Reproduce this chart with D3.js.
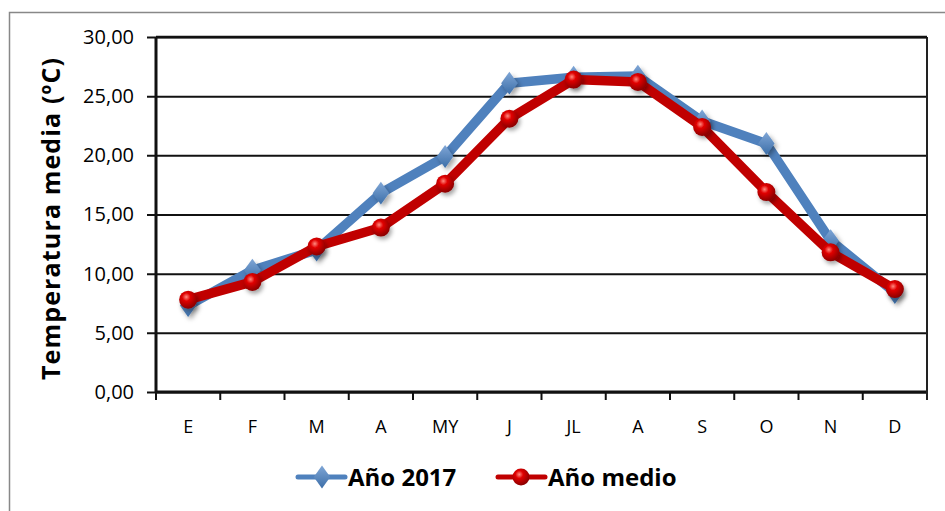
<!DOCTYPE html>
<html>
<head>
<meta charset="utf-8">
<script src="https://cdn.jsdelivr.net/npm/d3@7"></script>
<style>
  body { margin: 0; background: #fff; overflow: hidden; }
  svg { display: block; }
</style>
</head>
<body>
<svg width="945" height="511"></svg>
<script>
const months = ['E', 'F', 'M', 'A', 'MY', 'J', 'JL', 'A ', 'S', 'O', 'N', 'D'];
const year2017 = [7.3, 10.3, 12.0, 16.8, 19.9, 26.1, 26.6, 26.7, 22.9, 21.0, 12.8, 8.4];
const yearAvg = [7.8, 9.3, 12.3, 13.9, 17.6, 23.1, 26.4, 26.2, 22.4, 16.9, 11.8, 8.7];
const yTicks = [0, 5, 10, 15, 20, 25, 30];
const seriesNames = ['Año 2017', 'Año medio'];

const font = '"Open Sans", sans-serif';
const svg = d3.select('svg').attr('font-family', font);
const margin = { top: 37, right: 18, bottom: 119, left: 156 };
const innerWidth = 945 - margin.left - margin.right;
const innerHeight = 511 - margin.top - margin.bottom;

// outer chart border (only top and left visible)
svg.append('path')
    .attr('d', 'M9.5,511 L9.5,12.5 L945,12.5')
    .attr('fill', 'none')
    .attr('stroke', '#888')
    .attr('stroke-width', 1.5);

const defs = svg.append('defs');
const grad = defs.append('radialGradient').attr('id', 'ball')
    .attr('cx', '40%').attr('cy', '35%').attr('r', '65%');
grad.append('stop').attr('offset', '0%').attr('stop-color', '#ff8a80');
grad.append('stop').attr('offset', '35%').attr('stop-color', '#e00000');
grad.append('stop').attr('offset', '100%').attr('stop-color', '#8a0000');
const dgrad = defs.append('linearGradient').attr('id', 'dia')
    .attr('x1', '0').attr('y1', '0').attr('x2', '0').attr('y2', '1');
dgrad.append('stop').attr('offset', '0%').attr('stop-color', '#7fa6d6');
dgrad.append('stop').attr('offset', '100%').attr('stop-color', '#3c6ea8');
const shadow = defs.append('filter').attr('id', 'shadow')
    .attr('x', '-50%').attr('y', '-50%').attr('width', '200%').attr('height', '200%');
shadow.append('feDropShadow').attr('dx', 2).attr('dy', 3).attr('stdDeviation', 2)
    .attr('flood-color', '#000').attr('flood-opacity', 0.35);

const g = svg.append('g').attr('transform', `translate(${margin.left},${margin.top})`);

const xScale = d3.scaleBand().domain(months).range([0, innerWidth]);
const yScale = d3.scaleLinear().domain([0, 30]).range([innerHeight, 0]);
const xc = (d, i) => xScale(months[i]) + xScale.bandwidth() / 2;

// y axis with gridlines
const yAxisG = g.append('g')
    .call(d3.axisLeft(yScale).tickValues(yTicks)
        .tickFormat(d => d3.format('.2f')(d).replace('.', ','))
        .tickSize(-innerWidth).tickPadding(22))
    .attr('font-family', font).attr('font-size', 20);
yAxisG.select('.domain').remove();
yAxisG.selectAll('.tick text').attr('fill', '#000');
yAxisG.selectAll('.tick line').attr('stroke', '#111').attr('stroke-width', 2)
    .attr('x1', -9);

// x axis
const xAxisG = g.append('g').attr('transform', `translate(0,${innerHeight})`)
    .call(d3.axisBottom(xScale).tickSize(0).tickPadding(28))
    .attr('font-family', font).attr('font-size', 18);
xAxisG.select('.domain').remove();
xAxisG.selectAll('.tick text').attr('fill', '#000').text(d => d.trim());
g.append('g').selectAll('line')
    .data(d3.range(months.length + 1))
    .join('line')
    .attr('x1', i => i * xScale.bandwidth()).attr('x2', i => i * xScale.bandwidth())
    .attr('y1', innerHeight).attr('y2', innerHeight + 8)
    .attr('stroke', '#111').attr('stroke-width', 2);

// axis lines and right border
g.append('line').attr('x1', 0).attr('x2', innerWidth).attr('y1', innerHeight).attr('y2', innerHeight)
    .attr('stroke', '#111').attr('stroke-width', 3);
g.append('line').attr('x1', 0).attr('x2', 0).attr('y1', 0).attr('y2', innerHeight)
    .attr('stroke', '#111').attr('stroke-width', 3);
g.append('line').attr('x1', innerWidth).attr('x2', innerWidth).attr('y1', 0).attr('y2', innerHeight + 8)
    .attr('stroke', '#222').attr('stroke-width', 2);
g.append('line').attr('x1', 0).attr('x2', innerWidth).attr('y1', 0).attr('y2', 0)
    .attr('stroke', '#111').attr('stroke-width', 2.5);

// axis title
g.append('text')
    .attr('font-size', 25).attr('font-weight', 'bold')
    .attr('transform', `translate(${-105},${(58 + 380) / 2 - margin.top}) rotate(-90)`)
    .attr('text-anchor', 'middle')
    .attr('dy', '0.35em')
    .attr('textLength', 322)
    .attr('lengthAdjust', 'spacing')
    .text('Temperatura  media (ºC)');

const line = d3.line().x(xc).y(d => yScale(d));

g.append('path').datum(year2017)
    .attr('d', line).attr('fill', 'none')
    .attr('stroke', '#4f81bd').attr('stroke-width', 9.5).attr('stroke-linejoin', 'round');
const diamond = d3.symbol().type(d3.symbolDiamond).size(150);
g.append('g').selectAll('path')
    .data(year2017).join('path')
    .attr('d', diamond)
    .attr('transform', (d, i) => `translate(${xc(d, i)},${yScale(d)}) scale(1.25,1)`)
    .attr('fill', 'url(#dia)').attr('filter', 'url(#shadow)');

g.append('path').datum(yearAvg)
    .attr('d', line).attr('fill', 'none')
    .attr('stroke', '#c00000').attr('stroke-width', 9.5).attr('stroke-linejoin', 'round');
g.append('g').selectAll('circle')
    .data(yearAvg).join('circle')
    .attr('cx', xc).attr('cy', d => yScale(d)).attr('r', 9)
    .attr('fill', 'url(#ball)').attr('filter', 'url(#shadow)');

// legend
const legend = svg.append('g').attr('transform', 'translate(298,477)');
const items = [
    { name: seriesNames[0], color: '#4f81bd', x: 0, marker: 'diamond' },
    { name: seriesNames[1], color: '#c00000', x: 200, marker: 'ball' }
];
items.forEach(it => {
    const lg = legend.append('g').attr('transform', `translate(${it.x},0)`);
    lg.append('line').attr('x1', 0).attr('x2', 47).attr('y1', 0).attr('y2', 0)
        .attr('stroke', it.color).attr('stroke-width', 5).attr('stroke-linecap', 'round');
    if (it.marker === 'diamond') {
        lg.append('path').attr('d', diamond)
            .attr('transform', 'translate(24,0) scale(1.25,1)')
            .attr('fill', 'url(#dia)');
    } else {
        lg.append('circle').attr('cx', 23).attr('cy', 0).attr('r', 8.5).attr('fill', 'url(#ball)');
    }
    lg.append('text')
        .attr('font-size', 24).attr('font-weight', 'bold')
        .attr('x', 50).attr('y', 0).attr('dy', '0.36em')
        .text(it.name);
});
</script>
</body>
</html>
